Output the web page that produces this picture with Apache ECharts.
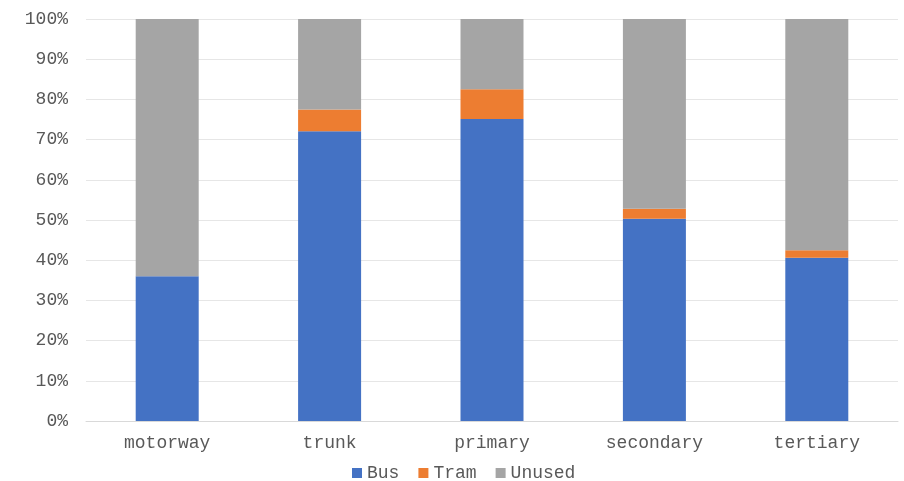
<!DOCTYPE html>
<html><head><meta charset="utf-8">
<script src="https://cdn.jsdelivr.net/npm/echarts@6/dist/echarts.min.js"></script>
<style>html,body{margin:0;padding:0;background:#fff}#c{width:904px;height:481px}</style>
</head><body><div id="c"></div>
<script>
const categories = ['motorway', 'trunk', 'primary', 'secondary', 'tertiary'];
const busValues = [36, 72.1, 75.1, 50.3, 40.6];
const tramValues = [0, 5.4, 7.4, 2.5, 1.9];
const unusedValues = [64, 22.5, 17.5, 47.2, 57.5];
const yTicks = [0, 10, 20, 30, 40, 50, 60, 70, 80, 90, 100];

const font = 'Liberation Mono';
const textColor = '#595959';
const chart = echarts.init(document.getElementById('c'));
function mk(name, data, color) {
  return { name, type: 'bar', stack: 'total', data, barWidth: 63,
    itemStyle: { color }, emphasis: { disabled: true } };
}
chart.setOption({
  animation: false,
  grid: { left: 86, right: 6, top: 19, bottom: 60 },
  legend: { top: 459, left: 347, itemWidth: 10, itemHeight: 10, itemGap: 19, icon: 'rect',
    textStyle: { fontFamily: font, fontSize: 18, color: textColor, padding: [0, 0, 0, 0], lineHeight: 18 } },
  xAxis: { type: 'category', data: categories,
    axisLine: { show: true, lineStyle: { color: '#d9d9d9' } }, axisTick: { show: false },
    axisLabel: { fontFamily: font, fontSize: 18, color: textColor, margin: 13 } },
  yAxis: { type: 'value', min: yTicks[0], max: yTicks[yTicks.length - 1], interval: 10,
    axisLabel: { fontFamily: font, fontSize: 18, color: textColor, margin: 18,
      formatter: v => v + '%' },
    splitLine: { lineStyle: { color: '#e6e6e6' } },
    axisLine: { show: false }, axisTick: { show: false } },
  series: [
    mk('Bus', busValues, '#4472C4'),
    mk('Tram', tramValues, '#ED7D31'),
    mk('Unused', unusedValues, '#A5A5A5')
  ]
});
</script></body></html>
